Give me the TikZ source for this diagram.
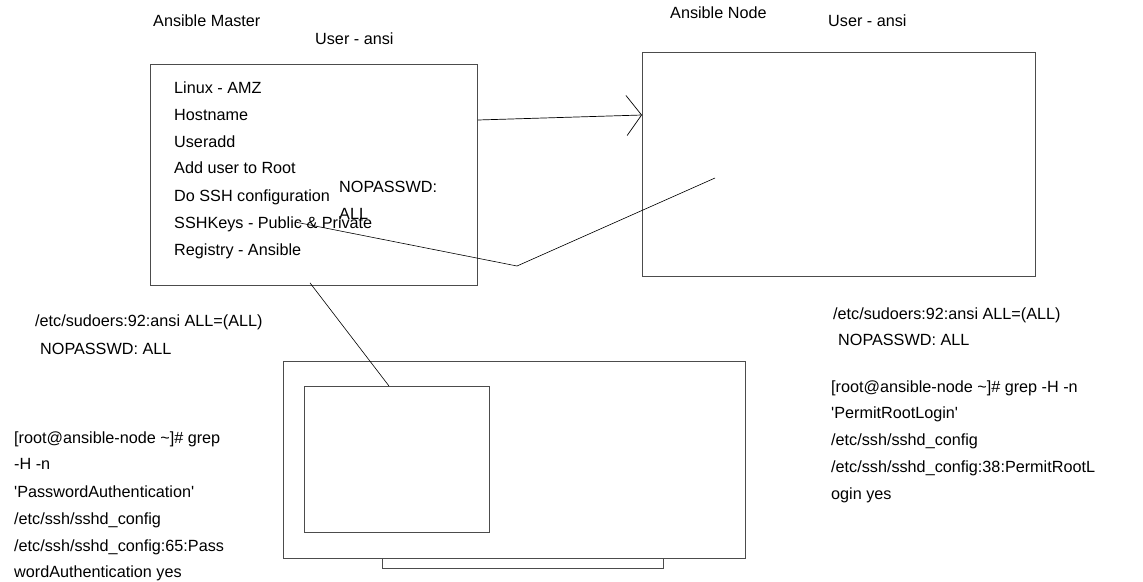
\documentclass[tikz,border=0pt]{standalone}
\usepackage{fontspec}
\setmainfont{Liberation Sans}
\usetikzlibrary{positioning, arrows.meta}

\begin{document}
\begin{tikzpicture}[x=1pt, y=-1pt, font=\fontsize{16.2}{18}\selectfont]
        \tikzstyle{frame} = [rectangle, draw=black!70, line width=0.9pt, anchor=north west, inner sep=0pt]
        \tikzstyle{txt} = [anchor=base west, inner sep=0pt]
        \tikzstyle{arrow} = [line width=0.7pt, -{Straight Barb[length=15pt, width=40pt, line width=0.7pt]}]
        \tikzstyle{wire} = [line width=0.6pt]

        \useasboundingbox (0,0) rectangle (1143,581);

        % Boxes
        \node (master) [frame, minimum width=327, minimum height=221] at (150,64) {};
        \node (ansnode) [frame, minimum width=393, minimum height=224] at (642,52) {};
        \node (monitor) [frame, minimum width=462, minimum height=197] at (283,361) {};
        \node (screen) [frame, minimum width=185, minimum height=146] at (304,386) {};
        \node (stand) [frame, minimum width=281, minimum height=10] at (382,558) {};

        % Titles
        \node (mastertitle) [txt] at (153,26) {Ansible Master};
        \node (masteruser) [txt] at (315,44) {User - ansi};
        \node (nodetitle) [txt] at (670,18) {Ansible Node};
        \node (nodeuser) [txt] at (828,26) {User - ansi};

        % Master steps
        \node (linux) [txt] at (174,93) {Linux - AMZ};
        \node (hostname) [txt] at (174,120) {Hostname};
        \node (useradd) [txt] at (174,147) {Useradd};
        \node (addroot) [txt] at (174,173) {Add user to Root};
        \node (sshconf) [txt] at (174,201) {Do SSH configuration};
        \node (sshkeys) [txt] at (174,228) {SSHKeys - Public \& Private};
        \node (registry) [txt] at (174,255) {Registry - Ansible};
        \node (nopass) [txt] at (339,192) {NOPASSWD:};
        \node (nopassall) [txt] at (339,219) {ALL};

        % Notes
        \node (sudoleft) [txt] at (35,326) {/etc/sudoers:92:ansi ALL=(ALL)};
        \node (sudoleftb) [txt] at (40,354) {NOPASSWD: ALL};
        \node (sudoright) [txt] at (833,319) {/etc/sudoers:92:ansi ALL=(ALL)};
        \node (sudorightb) [txt] at (838,345) {NOPASSWD: ALL};

        \node (grepr1) [txt] at (831,392) {[root@ansible-node \textasciitilde]\# grep -H -n};
        \node (grepr2) [txt] at (831,418) {\textquotesingle PermitRootLogin\textquotesingle};
        \node (grepr3) [txt] at (831,445) {/etc/ssh/sshd\_config};
        \node (grepr4) [txt] at (831,472) {/etc/ssh/sshd\_config:38:PermitRootL};
        \node (grepr5) [txt] at (831,499) {ogin yes};

        \node (grepl1) [txt] at (14,443) {[root@ansible-node \textasciitilde]\# grep};
        \node (grepl2) [txt] at (14,469) {-H -n};
        \node (grepl3) [txt] at (14,497) {\textquotesingle PasswordAuthentication\textquotesingle};
        \node (grepl4) [txt] at (14,524) {/etc/ssh/sshd\_config};
        \node (grepl5) [txt] at (14,551) {/etc/ssh/sshd\_config:65:Pass};
        \node (grepl6) [txt] at (14,577) {wordAuthentication yes};

        % Connectors
        \coordinate (keyspoint) at (295,222);
        \coordinate (bend) at (517,266);
        \coordinate (nodepoint) at (715,178);

        \draw [arrow] ([yshift=-56pt]master.north east) -- ([yshift=-63pt]ansnode.north west);
        \draw [wire] (keyspoint) -- (bend) -- (nodepoint);
        \draw [wire] ([xshift=160pt, yshift=3pt]master.south west) -- ([xshift=85pt]screen.north west);

    \end{tikzpicture}
\end{document}
